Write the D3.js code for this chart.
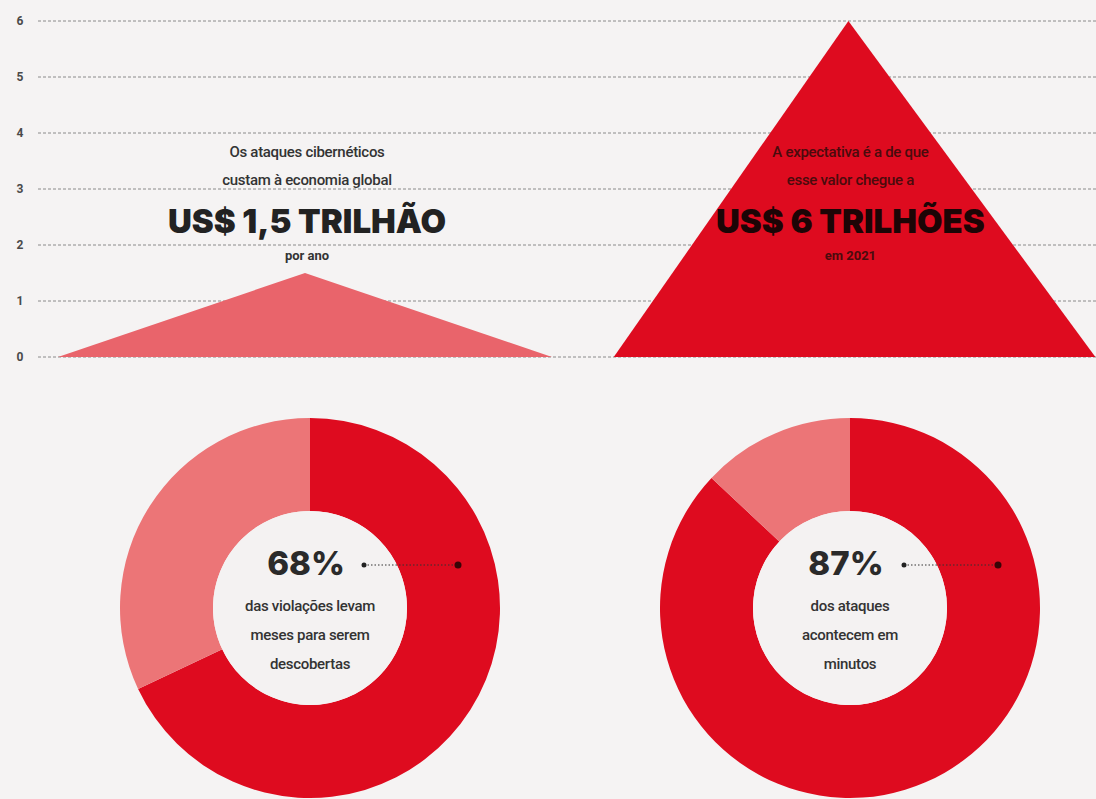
<!DOCTYPE html>
<html>
<head>
<meta charset="utf-8">
<script src="https://cdn.jsdelivr.net/npm/d3@7/dist/d3.min.js"></script>
<style>
  html, body { margin: 0; padding: 0; background: #f5f3f3; }
  svg { display: block; }
</style>
</head>
<body>
<svg id="chart" width="1096" height="799"></svg>
<script>
// ---------- DATA ----------
const yTicks = [0, 1, 2, 3, 4, 5, 6];
const currentX = [0, 1, 2];
const currentCost = [0, 1.5, 0];          // US$ trillion per year (today)
const projectedX = [2.25, 3.2, 4.2];
const projectedCost = [0, 6, 0];          // US$ trillion expected in 2021

const currentText = ["Os ataques cibernéticos", "custam à economia global", "US$ 1,5 TRILHÃO", "por ano"];
const projectedText = ["A expectativa é a de que", "esse valor chegue a", "US$ 6 TRILHÕES", "em 2021"];

const donutLabels = ["68%", "87%"];
const donutShares = [68, 87];
const donutCaptions = [
  ["das violações levam", "meses para serem", "descobertas"],
  ["dos ataques", "acontecem em", "minutos"]
];

// ---------- STYLE ----------
const darkRed = "#de0b1f";
const lightRed = "#e9646b";
const donutLight = "#ec7577";

const svg = d3.select("#chart");
const W = 1096, H = 799;

svg.append("rect").attr("width", W).attr("height", H).attr("fill", "#f5f3f3");

// ---------- TOP AREA CHART ----------
const x = d3.scaleLinear().domain([0, 2]).range([58, 552]);
const y = d3.scaleLinear().domain([0, 6]).range([357, 21]);

const grid = svg.append("g");
grid.selectAll("line").data(yTicks).join("line")
  .attr("x1", 38).attr("x2", W)
  .attr("y1", d => y(d)).attr("y2", d => y(d))
  .attr("stroke", "#8a8a8a").attr("stroke-width", 1)
  .attr("stroke-dasharray", "3,2");

const yAxis = d3.axisLeft(y).tickValues(yTicks).tickFormat(d3.format("d")).tickSize(0).tickPadding(0);
const ga = svg.append("g").attr("transform", "translate(25,0)").call(yAxis);
ga.select(".domain").remove();
ga.selectAll("text")
  .attr("font-family", "Roboto, sans-serif").attr("font-size", 12)
  .attr("font-weight", 700).attr("fill", "#4a4a4a").attr("text-anchor", "middle")
  .attr("x", -5);

const area = d3.area().x(d => x(d[0])).y0(y(0)).y1(d => y(d[1]));

svg.append("path")
  .datum(currentX.map((v, i) => [v, currentCost[i]]))
  .attr("d", area).attr("fill", lightRed);
svg.append("path")
  .datum(projectedX.map((v, i) => [v, projectedCost[i]]))
  .attr("d", area).attr("fill", darkRed);

function block(cx, lines, smallColor, bigColor) {
  const g = svg.append("g").attr("text-anchor", "middle").attr("font-family", "Roboto, sans-serif");
  g.append("text").attr("x", cx).attr("y", 157).attr("font-size", 15).attr("font-weight", 500)
    .attr("fill", smallColor).attr("letter-spacing", -0.3).text(lines[0]);
  g.append("text").attr("x", cx).attr("y", 185).attr("font-size", 15).attr("font-weight", 500)
    .attr("fill", smallColor).attr("letter-spacing", -0.3).text(lines[1]);
  g.append("text").attr("x", cx).attr("y", 233).attr("font-size", 33).attr("font-weight", 900)
    .attr("font-family", "Inter, sans-serif").attr("fill", bigColor).text(lines[2]);
  g.append("text").attr("x", cx).attr("y", 260).attr("font-size", 13).attr("font-weight", 700)
    .attr("fill", smallColor).text(lines[3]);
}
block(x(currentX[1]) + 2, currentText, "#333", "#222");
block(x(projectedX[1]) + 2, projectedText, "#4a0b0d", "#1c0506");

// ---------- DONUTS ----------
const centers = [310, 850];
const cy = 608, rOuter = 190, rInner = 97;
const pie = d3.pie().sort(null).value(d => d);
const arc = d3.arc().innerRadius(rInner).outerRadius(rOuter);

donutShares.forEach((share, i) => {
  const g = svg.append("g").attr("transform", `translate(${centers[i]},${cy})`);
  g.selectAll("path").data(pie([share, 100 - share])).join("path")
    .attr("d", arc).attr("fill", (d, j) => j === 0 ? darkRed : donutLight);
  g.append("circle").attr("r", rInner).attr("fill", "#f4f2f2");

  // leader
  const y0 = -43;
  g.append("line").attr("x1", 54).attr("x2", 148).attr("y1", y0).attr("y2", y0)
    .attr("stroke", "#333").attr("stroke-width", 1).attr("stroke-dasharray", "1.5,2");
  g.append("circle").attr("cx", 54).attr("cy", y0).attr("r", 2.5).attr("fill", "#222");
  g.append("circle").attr("cx", 148).attr("cy", y0).attr("r", 3.5).attr("fill", "#3a0406");

  g.append("text").attr("x", -4).attr("y", -33).attr("text-anchor", "middle")
    .attr("font-family", "Inter, sans-serif").attr("font-weight", 800).attr("font-size", 33)
    .attr("fill", "#2a2a2a").text(donutLabels[i]);

  g.selectAll("text.cap").data(donutCaptions[i]).join("text").attr("class", "cap")
    .attr("x", 0).attr("y", (d, k) => 3 + k * 29).attr("text-anchor", "middle")
    .attr("font-family", "Roboto, sans-serif").attr("font-size", 15).attr("font-weight", 500)
    .attr("letter-spacing", -0.3).attr("fill", "#333").text(d => d);
});
</script>
</body>
</html>
